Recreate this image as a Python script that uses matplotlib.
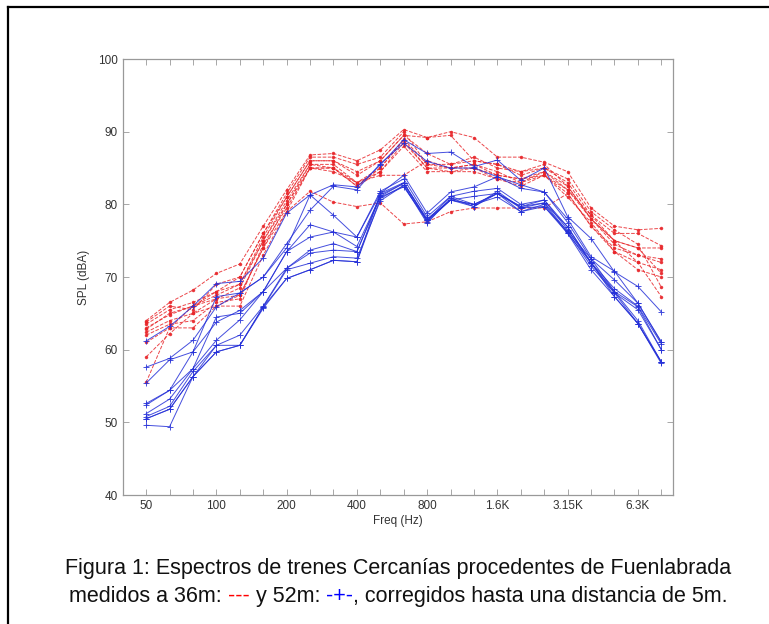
import matplotlib
matplotlib.use("Agg")
import matplotlib.pyplot as plt
from matplotlib.lines import Line2D

plt.rcParams['font.family'] = ['Liberation Sans', 'DejaVu Sans']

# third-octave bands, 50 Hz .. 8 kHz
bands = list(range(1, 24))
band_labels = ["50", "", "", "100", "", "", "200", "", "", "400", "", "", "800",
               "", "", "1.6K", "", "", "3.15K", "", "", "6.3K", ""]

# 36 m measurements (red, dashed)
red_lines = [
    [64.0, 66.5, 68.2, 70.5, 71.8, 77.0, 82.0, 86.8, 87.0, 86.0, 87.5, 90.3, 89.2, 90.0, 89.2, 86.5, 86.5, 85.8, 84.5, 79.5, 77.0, 76.5, 76.7],
    [63.5, 65.5, 66.5, 68.0, 70.0, 76.0, 81.0, 86.0, 86.0, 84.5, 86.0, 89.5, 87.0, 85.5, 86.5, 85.0, 84.5, 85.0, 83.0, 78.5, 76.0, 76.0, 74.3],
    [63.0, 64.8, 66.0, 67.5, 69.0, 75.0, 80.0, 85.5, 85.5, 83.0, 85.0, 89.0, 85.5, 85.0, 85.5, 84.0, 83.5, 84.5, 82.0, 78.0, 75.0, 74.0, 74.0],
    [62.4, 64.0, 65.0, 67.0, 67.5, 74.0, 79.0, 85.0, 85.0, 82.5, 84.5, 88.5, 85.0, 84.5, 85.0, 83.5, 82.5, 84.0, 81.5, 77.0, 74.0, 73.0, 72.5],
    [61.0, 63.0, 63.0, 66.0, 66.0, 73.0, 79.0, 81.8, 80.3, 79.7, 80.2, 77.3, 77.6, 79.0, 79.5, 79.5, 79.5, 79.5, 81.5, 77.0, 73.5, 72.0, 71.0],
    [59.0, 62.2, 65.0, 66.0, 67.5, 74.0, 80.0, 85.0, 84.5, 83.0, 84.0, 84.0, 86.0, 85.0, 85.0, 84.0, 83.5, 84.0, 82.0, 78.5, 75.0, 74.0, 70.5],
    [55.5, 63.0, 66.0, 68.0, 69.0, 75.5, 81.0, 86.0, 86.0, 84.0, 86.0, 89.5, 89.2, 89.5, 86.0, 85.5, 84.0, 85.0, 83.5, 79.0, 76.5, 74.5, 68.6],
    [62.8, 65.0, 66.0, 67.0, 68.5, 75.0, 80.5, 85.5, 85.0, 82.5, 85.0, 88.8, 85.0, 85.0, 85.5, 84.5, 83.0, 84.5, 82.5, 78.0, 75.0, 72.0, 67.3],
    [63.8, 66.0, 65.5, 69.0, 70.0, 76.0, 81.5, 86.5, 86.5, 85.5, 86.5, 90.0, 85.5, 85.5, 86.0, 85.5, 84.5, 85.5, 82.5, 78.0, 74.5, 73.0, 72.0],
    [62.0, 63.5, 64.0, 66.5, 67.0, 74.5, 79.5, 85.0, 85.0, 83.0, 84.5, 88.0, 84.5, 84.5, 84.5, 83.5, 83.0, 84.0, 81.0, 77.5, 73.5, 71.0, 70.0],
]

# 52 m measurements corrected to 5 m (blue, +)
blue_lines = [
    [61.2, 63.2, 66.0, 69.1, 69.4, 72.6, 78.8, 81.3, 82.7, 82.4, 85.4, 88.9, 87.0, 87.2, 85.2, 86.1, 83.3, 85.0, 78.3, 75.3, 70.7, 68.7, 65.2],
    [57.6, 58.8, 61.3, 65.9, 67.8, 70.0, 74.6, 79.2, 82.5, 82.0, 85.6, 88.4, 85.9, 85.0, 85.0, 83.8, 82.7, 81.7, 78.0, 72.8, 70.8, 66.4, 61.1],
    [55.4, 58.6, 59.7, 67.3, 67.8, 70.0, 74.0, 81.3, 78.5, 75.5, 81.5, 84.0, 78.8, 81.7, 82.4, 83.8, 82.2, 81.7, 77.5, 72.5, 69.6, 66.4, 61.0],
    [52.6, 54.4, 59.7, 63.8, 65.4, 68.0, 73.5, 77.2, 76.2, 75.5, 81.8, 83.5, 78.3, 81.1, 81.8, 82.2, 80.0, 80.6, 76.9, 72.0, 68.4, 66.0, 60.8],
    [52.4, 54.4, 57.4, 64.5, 65.0, 68.0, 73.5, 75.5, 76.2, 74.2, 81.1, 82.9, 78.0, 80.6, 81.1, 81.5, 79.7, 80.6, 76.5, 71.9, 68.0, 65.9, 60.0],
    [51.2, 53.2, 57.4, 61.3, 64.1, 68.0, 71.2, 73.7, 74.6, 73.5, 81.3, 82.9, 77.8, 80.6, 79.7, 81.5, 79.7, 80.2, 76.2, 71.5, 67.8, 65.5, 60.0],
    [50.8, 52.2, 57.0, 60.6, 62.0, 66.0, 71.2, 73.3, 73.7, 73.5, 81.0, 82.4, 77.8, 80.6, 80.0, 81.5, 79.0, 80.0, 76.0, 71.0, 67.3, 63.6, 58.3],
    [50.5, 51.8, 56.3, 60.6, 60.6, 65.9, 71.0, 71.9, 72.8, 72.6, 80.5, 82.6, 77.4, 80.9, 79.7, 81.8, 79.5, 79.7, 76.0, 72.0, 67.3, 63.6, 58.1],
    [50.5, 51.8, 56.3, 59.7, 60.6, 65.9, 69.8, 71.0, 72.3, 72.1, 81.5, 83.0, 77.8, 81.1, 80.0, 81.0, 79.0, 79.7, 76.3, 72.5, 68.0, 64.0, 58.3],
    [49.6, 49.4, 56.3, 59.7, 60.6, 65.7, 69.8, 71.0, 72.3, 72.1, 80.8, 82.6, 77.6, 80.6, 80.0, 81.5, 79.5, 80.2, 76.9, 71.9, 67.8, 63.6, 58.3],
]

fig = plt.figure(figsize=(7.69, 6.24), dpi=100)
ax = fig.add_axes([0.1596, 0.2067, 0.7156, 0.6987])

for vals in red_lines:
    ax.plot(bands, vals, color="#e8262a", linestyle="--", linewidth=0.7,
            marker=".", markersize=3, alpha=0.85)
for vals in blue_lines:
    ax.plot(bands, vals, color="#2530d8", linestyle="-", linewidth=0.7,
            marker="+", markersize=5, markeredgewidth=0.7, alpha=0.85)

ax.set_xlim(0, 23.5)
ax.set_ylim(40, 100)
ax.set_xticks(bands)
ax.set_xticklabels(band_labels)
ax.set_yticks(range(40, 101, 10))
ax.tick_params(direction="in", length=4, width=0.6, colors="#999999",
               labelcolor="#333333", labelsize=8.5, top=True, right=True)
for s in ax.spines.values():
    s.set_color("#999999")
    s.set_linewidth(0.9)
ax.set_xlabel("Freq (Hz)", fontsize=8.5, color="#333333", labelpad=2)
ax.set_ylabel("SPL (dBA)", fontsize=8.5, color="#333333", labelpad=6)

# caption
cap_size = 15.5
fig.text(0.517, 0.089, "Figura 1: Espectros de trenes Cercanías procedentes de Fuenlabrada",
         ha="center", va="center", fontsize=cap_size, color="#111111")
y2 = 0.044
parts = [("medidos a 36m: ", "#111111"), ("---", "#ff0000"), (" y 52m: ", "#111111"),
         ("-+-", "#0000ff"), (", corregidos hasta una distancia de 5m.", "#111111")]
fig.canvas.draw()
r = fig.canvas.get_renderer()
widths = []
for txt, col in parts:
    t = fig.text(0, y2, txt, fontsize=cap_size)
    widths.append(t.get_window_extent(r).width)
    t.remove()
x = (0.518 * 769 - sum(widths) / 2) / 769
for (txt, col), w in zip(parts, widths):
    fig.text(x, y2, txt, ha="left", va="center", fontsize=cap_size, color=col)
    x += w / 769

# page border (left and top edges)
fig.add_artist(Line2D([0.0105, 0.0105], [0.0, 0.988], color="black", lw=1.6,
                      transform=fig.transFigure))
fig.add_artist(Line2D([0.0105, 1.0], [0.988, 0.988], color="black", lw=1.6,
                      transform=fig.transFigure))

fig.savefig("out.png", dpi=100)
